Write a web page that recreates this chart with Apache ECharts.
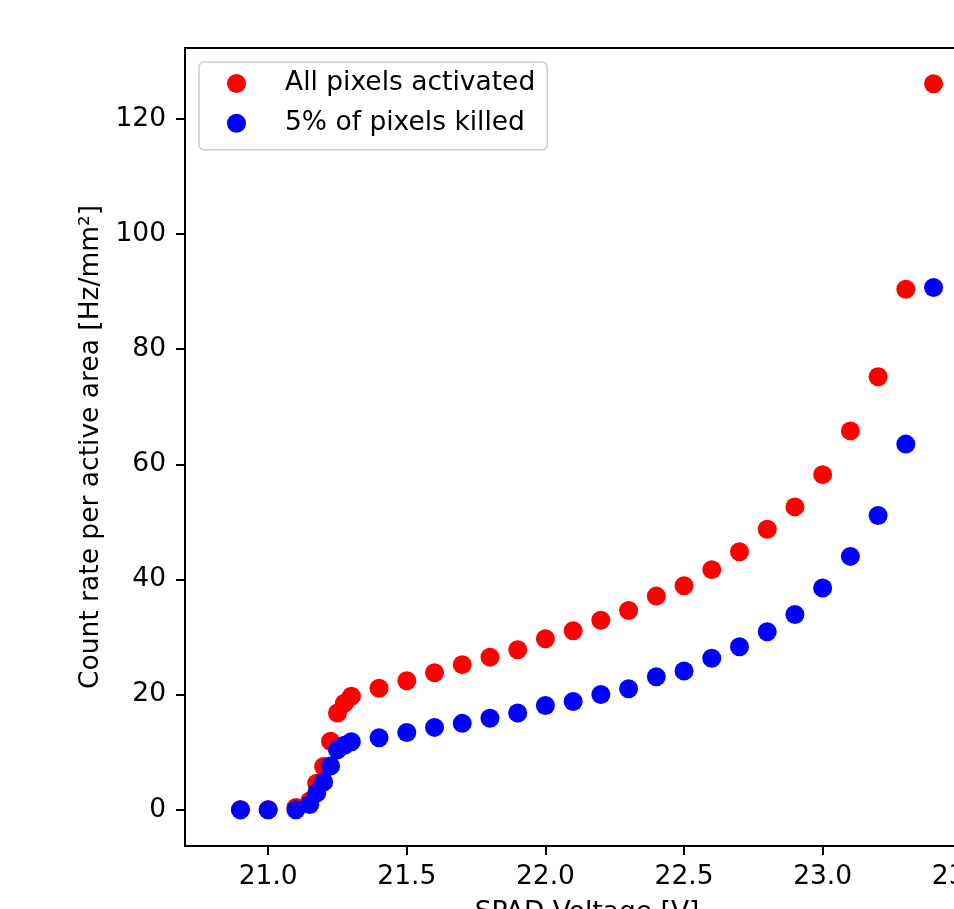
<!DOCTYPE html>
<html>
<head>
<meta charset="utf-8">
<script src="https://cdn.jsdelivr.net/npm/echarts@6/dist/echarts.min.js"></script>
<style>
  html, body { margin: 0; padding: 0; background: #fff; }
  #chart { width: 954px; height: 909px; }
</style>
</head>
<body>
<div id="chart"></div>
<script>
// SPAD voltage [V], shared by both series
const volts = [20.9, 21.0, 21.1, 21.15, 21.175, 21.2, 21.225, 21.25, 21.275, 21.3,
  21.4, 21.5, 21.6, 21.7, 21.8, 21.9, 22.0, 22.1, 22.2, 22.3, 22.4, 22.5,
  22.6, 22.7, 22.8, 22.9, 23.0, 23.1, 23.2, 23.3, 23.4];
// count rate [Hz/mm2]
const allActive = [0, 0, 0.4, 1.5, 4.6, 7.5, 11.9, 16.8, 18.5, 19.7,
  21.1, 22.4, 23.8, 25.2, 26.5, 27.8, 29.7, 31.1, 32.9, 34.6, 37.1, 38.9,
  41.7, 44.8, 48.7, 52.6, 58.2, 65.8, 75.2, 90.4, 126.1];
const killed5 = [0, 0, 0, 0.9, 2.9, 4.8, 7.6, 10.4, 11.2, 11.8,
  12.5, 13.4, 14.3, 15.0, 15.9, 16.8, 18.1, 18.8, 20.0, 21.0, 23.1, 24.1,
  26.3, 28.3, 30.9, 33.9, 38.5, 44.0, 51.1, 63.5, 90.7];
const xTicks = [21.0, 21.5, 22.0, 22.5, 23.0, 23.5];
const yTicks = [0, 20, 40, 60, 80, 100, 120];

const font = 'DejaVu Sans';
const fs = 26.5;

const chart = echarts.init(document.getElementById('chart'));
const option = {
  animation: false,
  backgroundColor: '#fff',
  grid: {
    left: 185, top: 48, bottom: 63, right: -35,
    outerBoundsMode: 'none',
    containLabel: false,
    show: true, borderColor: '#000', borderWidth: 2
  },
  legend: {
    orient: 'vertical',
    left: 199, top: 62,
    padding: [8, 12, 13, 28],
    itemWidth: 19, itemHeight: 19, itemGap: 12.8,
    backgroundColor: 'rgba(255,255,255,0.8)',
    borderColor: '#cccccc', borderWidth: 1.5, borderRadius: 5,
    formatter: name => '{t|' + name + '}',
    textStyle: {
      fontFamily: font, fontSize: fs, color: '#000', lineHeight: 19,
      rich: { t: { fontFamily: font, fontSize: fs, color: '#000', lineHeight: 19, padding: [0, 0, 0, 34] } }
    },
    data: [
      { name: 'All pixels activated', icon: 'circle' },
      { name: '5% of pixels killed', icon: 'circle' }
    ]
  },
  xAxis: {
    type: 'value',
    min: 20.7, max: 23.6,
    name: 'SPAD Voltage [V]',
    nameLocation: 'middle',
    nameGap: 54,
    nameTextStyle: { fontFamily: font, fontSize: fs, color: '#000' },
    axisLine: { onZero: false, lineStyle: { color: '#000', width: 2 } },
    axisTick: { show: true, inside: false, length: 9, lineStyle: { color: '#000', width: 2 }, customValues: xTicks },
    axisLabel: {
      fontFamily: font, fontSize: fs, color: '#000', margin: 18,
      customValues: xTicks,
      formatter: v => v.toFixed(1)
    },
    splitLine: { show: false }
  },
  yAxis: {
    type: 'value',
    min: -6.3, max: 132.3,
    name: 'Count rate per active area [Hz/mm²]',
    nameLocation: 'middle',
    nameGap: 80,
    nameRotate: 90,
    nameTextStyle: { fontFamily: font, fontSize: fs, color: '#000' },
    axisLine: { onZero: false, lineStyle: { color: '#000', width: 2 } },
    axisTick: { show: true, inside: false, length: 9, lineStyle: { color: '#000', width: 2 }, customValues: yTicks },
    axisLabel: {
      fontFamily: font, fontSize: fs, color: '#000', margin: 19,
      customValues: yTicks
    },
    splitLine: { show: false }
  },
  series: [
    {
      name: 'All pixels activated',
      type: 'scatter',
      symbol: 'circle',
      symbolSize: 19,
      itemStyle: { color: '#ff0000', opacity: 1 },
      data: volts.map((v, i) => [v, allActive[i]])
    },
    {
      name: '5% of pixels killed',
      type: 'scatter',
      symbol: 'circle',
      symbolSize: 19,
      itemStyle: { color: '#0000ff', opacity: 1 },
      data: volts.map((v, i) => [v, killed5[i]])
    }
  ]
};
chart.setOption(option);
</script>
</body>
</html>
